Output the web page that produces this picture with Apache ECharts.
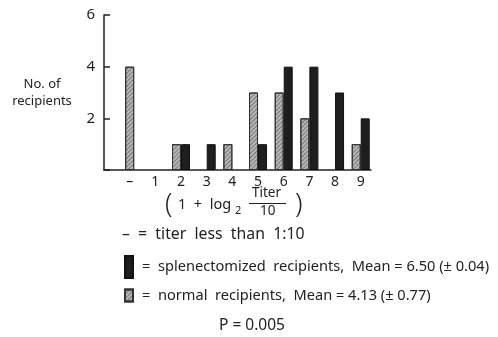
<!DOCTYPE html>
<html>
<head>
<meta charset="utf-8">
<script src="https://cdn.jsdelivr.net/npm/echarts@6/dist/echarts.min.js"></script>
<style>
  html, body { margin: 0; padding: 0; background: #fff; }
  #graph { width: 498px; height: 337px; }
</style>
</head>
<body>
<div id="graph"></div>
<script>
// titer classes: 0 stands for "-" (titer less than 1:10)
const titers = [0, 1, 2, 3, 4, 5, 6, 7, 8, 9];
const titerLabels = ['\u2013', '1', '2', '3', '4', '5', '6', '7', '8', '9'];
const normal = [4, 0, 1, 0, 1, 3, 3, 2, 0, 1];
const splenectomized = [0, 0, 1, 1, 0, 1, 4, 4, 3, 2];
const yTicks = [2, 4, 6];

const normalName = 'normal recipients';
const splenName = 'splenectomized recipients';
const legendText = {
  'splenectomized recipients': '=  splenectomized  recipients,  Mean = 6.50 (\u00b1 0.04)',
  'normal recipients': '=  normal  recipients,  Mean = 4.13 (\u00b1 0.77)'
};

const font = 'Noto Sans';
const ink = '#222';

const hatch = {
  color: 'rgba(40,40,40,0.45)',
  dashArrayX: [1, 0],
  dashArrayY: [1, 2],
  rotation: -Math.PI / 4
};
const normalStyle = { color: '#b8b8b8', borderColor: '#333', borderWidth: 1, decal: hatch };
const splenStyle = { color: '#1e1e1e', borderColor: '#111', borderWidth: 1 };

// the "-" class only has normal recipients, so it gets a centred bar
const normalPairs = [], splenPairs = [], dashPairs = [];
titers.forEach((t, i) => {
  if (t === 0) {
    if (normal[i]) dashPairs.push([t, normal[i]]);
  } else {
    if (normal[i]) normalPairs.push([t, normal[i]]);
  }
  if (splenectomized[i]) splenPairs.push([t, splenectomized[i]]);
});

const chart = echarts.init(document.getElementById('graph'));
const xCommon = {
  type: 'value',
  min: -1,
  max: 9.4,
  interval: 1,
  splitLine: { show: false }
};
chart.setOption({
  backgroundColor: '#fff',
  animation: false,
  textStyle: { fontFamily: font, color: ink },
  grid: { left: 104, right: 127, top: 15, bottom: 167 },
  xAxis: [
    Object.assign({}, xCommon, {
      axisLine: { onZero: false, lineStyle: { color: ink, width: 1.5 } },
      axisTick: { show: false },
      axisLabel: {
        showMinLabel: false,
        showMaxLabel: false,
        margin: 5,
        fontSize: 14,
        color: ink,
        fontFamily: font,
        formatter: v => (Number.isInteger(v) && v >= 0 && v <= 9) ? titerLabels[titers.indexOf(v)] : ''
      }
    }),
    Object.assign({}, xCommon, { show: false })
  ],
  yAxis: {
    type: 'value',
    min: 0,
    max: 6,
    interval: 2,
    name: 'No. of\nrecipients',
    nameLocation: 'middle',
    nameRotate: 0,
    nameGap: 62,
    nameTextStyle: { fontSize: 13, color: ink, fontFamily: font, align: 'center', lineHeight: 17 },
    axisLine: { show: true, onZero: false, lineStyle: { color: ink, width: 1.5 } },
    axisTick: { show: true, inside: true, length: 6, lineStyle: { color: ink, width: 1.5 } },
    splitLine: { show: false },
    axisLabel: {
      margin: 9,
      fontSize: 15,
      color: ink,
      fontFamily: font,
      formatter: v => yTicks.includes(v) ? String(v) : ''
    }
  },
  legend: [
    {
      data: [splenName],
      left: 124, top: 255, padding: 0,
      icon: 'rect', itemWidth: 8, itemHeight: 22, itemGap: 0,
      textStyle: { fontSize: 14.6, color: ink, fontFamily: font, padding: [0, 0, 0, 4] },
      formatter: n => legendText[n],
      selectedMode: false
    },
    {
      data: [normalName],
      left: 124, top: 288, padding: 0,
      icon: 'rect', itemWidth: 8, itemHeight: 12, itemGap: 0,
      textStyle: { fontSize: 14.6, color: ink, fontFamily: font, padding: [0, 0, 0, 4] },
      formatter: n => legendText[n],
      selectedMode: false
    }
  ],
  series: [
    { name: normalName, type: 'bar', xAxisIndex: 0, barWidth: 9, barGap: '0%', itemStyle: normalStyle, data: normalPairs },
    { name: splenName, type: 'bar', xAxisIndex: 0, barWidth: 9, barGap: '0%', itemStyle: splenStyle, data: splenPairs },
    { name: normalName + ' (\u2013)', type: 'bar', xAxisIndex: 1, barWidth: 9, itemStyle: normalStyle, data: dashPairs }
  ],
  graphic: [
    { type: 'text', left: 165, top: 192, style: { text: '(', fontSize: 27, fontWeight: 300, fontFamily: font, fill: ink } },
    { type: 'text', left: 178, top: 197, style: { text: '1  +  log', fontSize: 14.5, fontFamily: font, fill: ink } },
    { type: 'text', left: 235, top: 205, style: { text: '2', fontSize: 11, fontFamily: font, fill: ink } },
    { type: 'text', left: 252, top: 186, style: { text: 'Titer', fontSize: 13.5, fontFamily: font, fill: ink } },
    { type: 'line', shape: { x1: 249, y1: 203.5, x2: 286, y2: 203.5 }, style: { stroke: ink, lineWidth: 1 } },
    { type: 'text', left: 260, top: 204, style: { text: '10', fontSize: 13.5, fontFamily: font, fill: ink } },
    { type: 'text', left: 295, top: 192, style: { text: ')', fontSize: 27, fontWeight: 300, fontFamily: font, fill: ink } },
    { type: 'text', left: 122, top: 226, style: { text: '\u2013  =  titer  less  than  1:10', fontSize: 15.8, fontFamily: font, fill: ink } },
    { type: 'text', left: 219, top: 318, style: { text: 'P = 0.005', fontSize: 15.5, fontFamily: font, fill: ink } }
  ]
});
</script>
</body>
</html>
